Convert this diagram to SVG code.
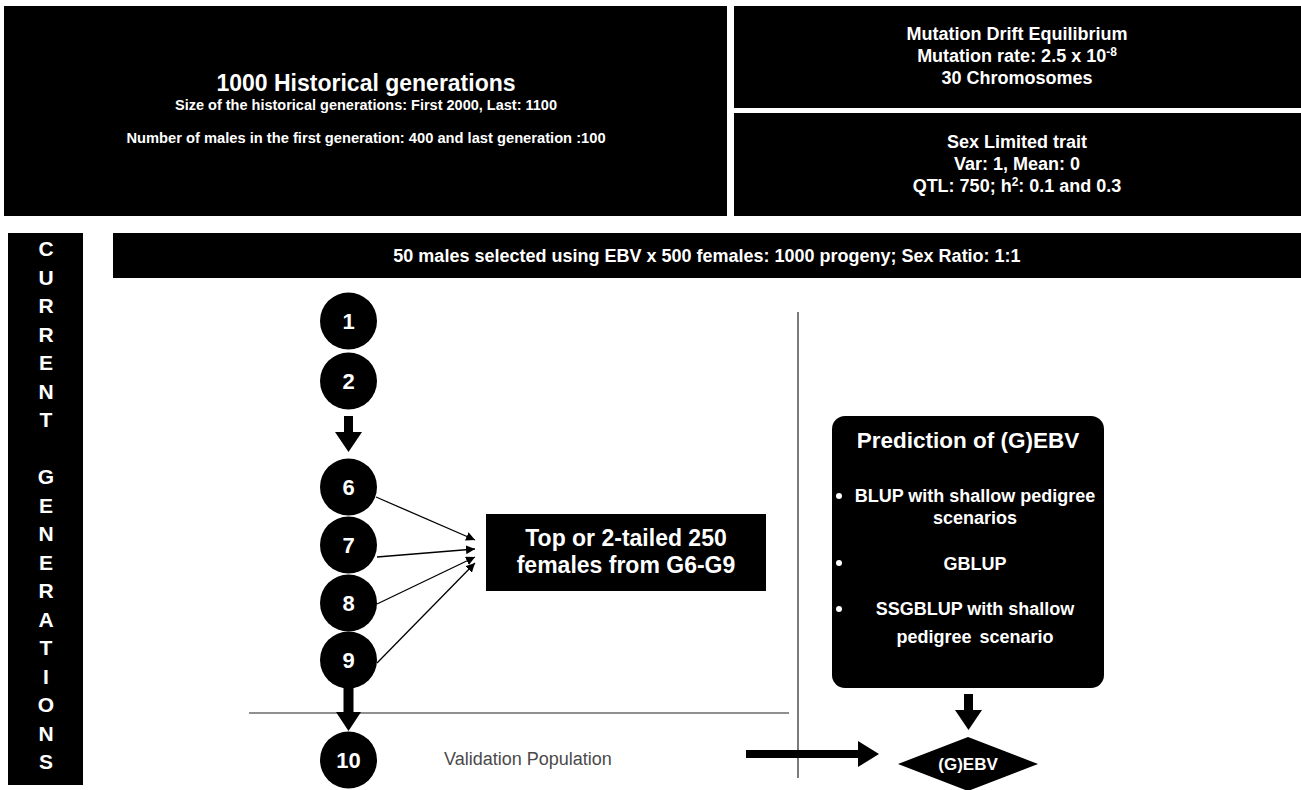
<svg xmlns="http://www.w3.org/2000/svg" width="1301" height="790" viewBox="0 0 1301 790">
<defs>
<style>
text{font-family:"Liberation Sans",Arial,Helvetica,sans-serif;font-weight:bold;fill:#fff;text-anchor:middle}
.blk{fill:#000}
.thin{stroke:#000;stroke-width:1.3;fill:none}
.rule{stroke:#222;stroke-width:1.2;fill:none}
.num{font-size:22px}
.let{font-size:21px}
.val{font-weight:normal;fill:#4a4a4a;font-size:18px;text-anchor:start}
</style>
<marker id="ah" viewBox="0 0 10 10" refX="10" refY="5" markerWidth="9" markerHeight="9" markerUnits="userSpaceOnUse" orient="auto">
<path d="M0,0 L10,5 L0,10 z" fill="#000"/>
</marker>
</defs>
<rect width="1301" height="790" fill="#fff"/>

<g id="historical">
<rect class="blk" x="4" y="6" width="723" height="210"/>
<text x="366" y="91" font-size="23">1000 Historical generations</text>
<text x="366" y="110" font-size="14.5">Size of the historical generations: First 2000, Last: 1100</text>
<text x="366" y="143" font-size="14.7">Number of males in the first generation: 400 and last generation :100</text>
</g>

<g id="mutation">
<rect class="blk" x="734" y="6" width="567" height="102"/>
<text x="1017" y="40" font-size="18">Mutation Drift Equilibrium</text>
<text x="1017" y="62" font-size="18">Mutation rate: 2.5 x 10<tspan font-size="12" dy="-6">-8</tspan></text>
<text x="1017" y="84" font-size="18">30 Chromosomes</text>
</g>

<g id="trait">
<rect class="blk" x="734" y="113" width="567" height="103"/>
<text x="1017" y="148" font-size="18">Sex Limited trait</text>
<text x="1017" y="170" font-size="18">Var: 1, Mean: 0</text>
<text x="1017" y="192" font-size="18">QTL: 750; h<tspan font-size="12" dy="-6">2</tspan><tspan dy="6">: 0.1 and 0.3</tspan></text>
</g>

<g id="current-generations">
<rect class="blk" x="8" y="233" width="75" height="552"/>
<text class="let" x="46" y="256">C</text>
<text class="let" x="46" y="284.5">U</text>
<text class="let" x="46" y="313">R</text>
<text class="let" x="46" y="341.5">R</text>
<text class="let" x="46" y="370">E</text>
<text class="let" x="46" y="398.5">N</text>
<text class="let" x="46" y="427">T</text>
<text class="let" x="46" y="484">G</text>
<text class="let" x="46" y="512.5">E</text>
<text class="let" x="46" y="541">N</text>
<text class="let" x="46" y="569.5">E</text>
<text class="let" x="46" y="598">R</text>
<text class="let" x="46" y="626.5">A</text>
<text class="let" x="46" y="655">T</text>
<text class="let" x="46" y="683.5">I</text>
<text class="let" x="46" y="712">O</text>
<text class="let" x="46" y="740.5">N</text>
<text class="let" x="46" y="769">S</text>
</g>

<g id="banner">
<rect class="blk" x="113" y="233" width="1188" height="45"/>
<text x="707" y="262" font-size="18">50 males selected using EBV x 500 females: 1000 progeny; Sex Ratio: 1:1</text>
</g>

<g id="connectors">
<line class="rule" x1="798" y1="312" x2="798" y2="778"/>
<line class="rule" x1="249" y1="713" x2="789" y2="713"/>
<polygon class="blk" points="344,416 353,416 353,432 362,432 348.5,452 335,432 344,432"/>
<polygon class="blk" points="343.5,688 353.5,688 353.5,712 361,712 348.5,731 336,712 343.5,712"/>
<line class="thin" x1="376" y1="497" x2="475" y2="540" marker-end="url(#ah)"/>
<line class="thin" x1="377" y1="557" x2="475" y2="549" marker-end="url(#ah)"/>
<line class="thin" x1="377" y1="604" x2="475" y2="557" marker-end="url(#ah)"/>
<line class="thin" x1="377" y1="663" x2="475" y2="563" marker-end="url(#ah)"/>
<polygon class="blk" points="746,750 858,750 858,741 879,754 858,767 858,758 746,758"/>
<polygon class="blk" points="964,694 973,694 973,710 982,710 968.5,730 955,710 964,710"/>
</g>

<g id="gen1"><circle class="blk" cx="348.5" cy="321" r="28.5"/><text class="num" x="348.5" y="329">1</text></g>
<g id="gen2"><circle class="blk" cx="348.5" cy="381" r="28.5"/><text class="num" x="348.5" y="389">2</text></g>
<g id="gen6"><circle class="blk" cx="348.5" cy="487" r="28.5"/><text class="num" x="348.5" y="495">6</text></g>
<g id="gen7"><circle class="blk" cx="348.5" cy="545" r="28.5"/><text class="num" x="348.5" y="553">7</text></g>
<g id="gen8"><circle class="blk" cx="348.5" cy="603" r="28.5"/><text class="num" x="348.5" y="611">8</text></g>
<g id="gen9"><circle class="blk" cx="348.5" cy="660" r="28.5"/><text class="num" x="348.5" y="668">9</text></g>
<g id="gen10"><circle class="blk" cx="348.5" cy="760" r="28.5"/><text class="num" x="348.5" y="768">10</text></g>

<g id="selected-females">
<rect class="blk" x="486" y="514" width="280" height="77"/>
<text x="626" y="546" font-size="23">Top or 2-tailed 250</text>
<text x="626" y="573" font-size="23">females from G6-G9</text>
</g>

<g id="validation">
<text class="val" x="444" y="765">Validation Population</text>
</g>

<g id="prediction">
<rect class="blk" x="832" y="416" width="272" height="272" rx="13" ry="13"/>
<text x="968" y="448" font-size="22.5">Prediction of (G)EBV</text>
<circle cx="839" cy="496" r="3" fill="#fff"/>
<text x="975" y="502" font-size="18">BLUP with shallow pedigree</text>
<text x="975" y="524" font-size="18">scenarios</text>
<circle cx="839" cy="563" r="3" fill="#fff"/>
<text x="975" y="570" font-size="18">GBLUP</text>
<circle cx="839" cy="609" r="3" fill="#fff"/>
<text x="975" y="615" font-size="18">SSGBLUP with shallow</text>
<text x="975" y="643" font-size="18" word-spacing="3">pedigree scenario</text>
</g>

<g id="gebv">
<polygon class="blk" points="898,764 968,737 1038,764 968,791"/>
<text x="968" y="770" font-size="17">(G)EBV</text>
</g>
</svg>
